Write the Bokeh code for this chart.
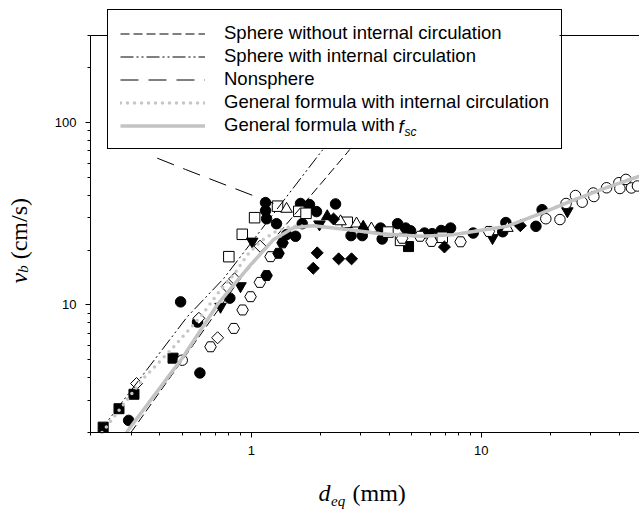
import numpy as np
from bokeh.plotting import figure
from bokeh.models import (Range1d, FixedTicker, PrintfTickFormatter, Legend, LegendItem,
                          Label, LogAxis, BoxAnnotation)
from bokeh.embed import file_html
from bokeh.resources import INLINE

# ---------------- curves (d_eq in mm, v_b in cm/s) ----------------
sphere_wo_x = [0.2995, 0.304, 0.622, 0.898, 2.615, 3.2]
sphere_wo_y = [2.0, 2.05, 7.29, 14.0, 68.4, 95.0]

sphere_with_x = [0.2177, 0.221, 0.527, 0.760, 2.0, 2.45]
sphere_with_y = [2.0, 2.05, 8.62, 14.0, 68.4, 95.0]

nonsphere_x = [0.39, 0.518, 1.131, 1.25]
nonsphere_y = [63.8, 55.3, 37.8, 36.1]

gen_ic_x = [0.2245, 0.270, 0.340, 0.446, 0.602, 0.735, 0.838, 0.961, 1.098, 1.250, 1.482,
            1.866, 2.615, 3.65, 5.45, 7.58, 9.26, 12.97, 18.1, 25.2, 35.3, 48.8]
gen_ic_y = [2.0, 2.71, 3.96, 5.65, 8.62, 12.1, 14.6, 18.8, 22.3, 24.9, 27.0,
            27.2, 25.9, 24.6, 23.8, 24.3, 25.3, 27.0, 31.7, 37.6, 44.1, 50.8]

gen_fsc_x = [0.2866, 0.501, 0.711, 0.993, 1.250, 1.527, 1.866, 2.615, 3.65, 5.45, 7.58,
             9.26, 12.97, 18.1, 25.2, 35.3, 48.8]
gen_fsc_y = [2.0, 5.11, 10.0, 16.6, 22.8, 26.5, 27.2, 25.9, 24.6, 23.8, 24.3,
             25.3, 27.0, 31.7, 37.6, 44.1, 50.8]

# ---------------- measured data ----------------
fc_x = [0.293, 0.493, 0.598, 0.584, 0.807, 1.154, 1.154, 1.166, 1.288, 1.424, 1.558, 1.638, 1.792,
        1.666, 1.922, 2.326, 2.716, 3.04, 3.65, 3.71, 4.33, 4.69, 4.93, 5.67, 6.12, 6.70, 7.36,
        9.23, 12.4, 12.8, 17.3, 18.4]
fc_y = [2.33, 10.4, 4.24, 8.06, 10.9, 36.4, 32.9, 29.7, 27.9, 24.3, 23.8, 36.0, 35.5,
        27.9, 32.5, 35.8, 24.0, 24.0, 26.4, 23.0, 27.9, 26.4, 25.5, 24.8, 24.6, 25.6, 26.4,
        24.8, 25.2, 28.3, 27.0, 33.3]

fs_x = [0.227, 0.266, 0.309, 0.457, 4.83]
fs_y = [2.14, 2.70, 3.24, 5.11, 20.9]

os_x = [0.799, 0.914, 1.034, 1.301, 1.61, 1.731, 2.615, 3.93, 4.46, 6.77]
os_y = [18.4, 24.4, 30.1, 34.8, 32.6, 31.8, 28.4, 25.1, 22.6, 23.5]

ot_x = [1.424, 2.445, 2.87, 3.33, 13.0]
ot_y = [33.6, 28.7, 27.9, 26.2, 26.4]

ft_x = [2.14, 3.07]
ft_y = [30.6, 26.8]

fit_x = [0.735, 0.898, 1.01, 1.98, 11.2, 23.7]
fit_y = [9.79, 12.7, 22.3, 27.7, 23.3, 32.7]

fd_x = [1.936, 1.861, 2.40, 2.73, 2.28, 6.92, 14.8]
fd_y = [19.3, 15.9, 17.9, 17.9, 29.6, 20.8, 27.2]

od_x = [0.317, 0.592, 0.714, 0.786, 0.846, 1.092]
od_y = [3.71, 8.45, 6.61, 12.6, 13.9, 21.0]

oh_x = [0.665, 0.840, 0.917, 0.993, 1.09, 1.213, 4.53, 5.42, 6.08, 8.13, 10.8]
oh_y = [5.90, 7.44, 9.39, 11.1, 13.3, 18.4, 23.2, 23.8, 22.3, 22.2, 25.3]

fh_x = [1.166, 1.314, 1.368]
fh_y = [14.5, 19.2, 21.9]

oc_x = [0.501, 19.1, 22.0, 23.4, 25.7, 27.5, 30.7, 30.9, 35.1, 39.7, 40.1, 42.6, 45.0, 47.8]
oc_y = [4.98, 29.7, 29.4, 36.0, 39.8, 36.6, 41.1, 39.3, 43.9, 46.8, 43.5, 48.8, 43.8, 44.9]

x_major = [1, 10]
x_minor = [0.2, 0.3, 0.4, 0.5, 0.6, 0.7, 0.8, 0.9, 2, 3, 4, 5, 6, 7, 8, 9, 20, 30, 40]
y_major = [10, 100]
y_minor = [2, 3, 4, 5, 6, 7, 8, 9, 20, 30, 40, 50, 60, 70, 80, 90, 200, 300]
x_axis_span = (0.2, 48.8)
y_axis_span = (2, 300)

legend_labels = ["Sphere without internal circulation",
                 "Sphere with internal circulation",
                 "Nonsphere",
                 "General formula with internal circulation",
                 "General formula with"]

SANS = "Liberation Sans"
SERIF = "Liberation Serif"
H = 510  # screen y is measured up from the bottom of the canvas

# frame fills the whole canvas; axes are pinned at the data corner (0.2, 2)
p = figure(width=639, height=H, x_axis_type="log", y_axis_type="log",
           x_range=Range1d(0.0812, 48.8), y_range=Range1d(0.7471, 466.7),
           output_backend="svg", toolbar_location=None, title=None,
           min_border=0, min_border_left=0, min_border_right=0,
           min_border_top=0, min_border_bottom=0)
p.outline_line_color = None
p.grid.visible = False
p.background_fill_color = "white"
p.border_fill_color = "white"

xa, ya = p.xaxis[0], p.yaxis[0]
xa.fixed_location = y_axis_span[0]
xa.bounds = x_axis_span
ya.fixed_location = x_axis_span[0]
ya.bounds = y_axis_span

for ax, maj, mnr in ((xa, x_major, x_minor), (ya, y_major, y_minor)):
    ax.ticker = FixedTicker(ticks=maj, minor_ticks=mnr)
    ax.formatter = PrintfTickFormatter(format="%d")
    ax.major_tick_in = 0
    ax.major_tick_out = 5
    ax.minor_tick_in = 0
    ax.minor_tick_out = 3
    ax.axis_line_color = "black"
    ax.major_tick_line_color = "black"
    ax.minor_tick_line_color = "black"
    ax.major_label_text_font = SANS
    ax.major_label_text_font_size = "13px"
    ax.major_label_text_color = "black"
    ax.major_label_standoff = 9

top = LogAxis(fixed_location=y_axis_span[1], bounds=x_axis_span,
              ticker=FixedTicker(ticks=[], minor_ticks=[]),
              major_tick_line_color=None, minor_tick_line_color=None,
              major_label_text_font_size="0px", axis_line_color="black")
p.add_layout(top, "above")

# markers
mk = dict(line_color="black", line_width=1)
p.scatter(fc_x, fc_y, marker="circle", size=10.5, fill_color="black", **mk)
p.scatter(fs_x, fs_y, marker="square", size=10, fill_color="black", **mk)
p.scatter(os_x, os_y, marker="square", size=10.5, fill_color="white", **mk)
p.scatter(ot_x, ot_y, marker="triangle", size=11.5, fill_color="white", **mk)
p.scatter(ft_x, ft_y, marker="triangle", size=11.5, fill_color="black", **mk)
p.scatter(fit_x, fit_y, marker="inverted_triangle", size=11.5, fill_color="black", **mk)
p.scatter(fd_x, fd_y, marker="square", angle=np.pi / 4, size=8.5, fill_color="black", **mk)
p.scatter(od_x, od_y, marker="square", angle=np.pi / 4, size=8.5, fill_color="white", **mk)
p.scatter(oh_x, oh_y, marker="hex", size=11.5, fill_color="white", **mk)
p.scatter(fh_x, fh_y, marker="hex", size=11.5, fill_color="black", **mk)
p.scatter(oc_x, oc_y, marker="circle", size=10.5, fill_color="white", **mk)

# curves
r1 = p.line(sphere_wo_x, sphere_wo_y, line_color="black", line_width=1, line_dash="9 4")
r2 = p.line(sphere_with_x, sphere_with_y, line_color="black", line_width=1, line_dash="13 3 2 3 2 3")
r3 = p.line(nonsphere_x, nonsphere_y, line_color="black", line_width=1, line_dash="18 10")
r4 = p.line(gen_ic_x, gen_ic_y, line_color="#c6c6c6", line_width=3.5, line_dash="0 7",
            line_cap="round")
r5 = p.line(gen_fsc_x, gen_fsc_y, line_color="#c3c3c3", line_width=3.5)

# white panel behind the (transparent) legend so that extra text can sit on top of it
p.add_layout(BoxAnnotation(left=107, right=559, top=H - 11, bottom=H - 149,
                           left_units="screen", right_units="screen",
                           top_units="screen", bottom_units="screen",
                           fill_color="white", fill_alpha=1.0, line_color=None,
                           level="annotation"))

legend = Legend(items=[LegendItem(label=t, renderers=[r]) for t, r in
                       zip(legend_labels, [r1, r2, r3, r4, r5])],
                location=(107, H - 149), orientation="vertical")
legend.border_line_color = "black"
legend.border_line_width = 1
legend.border_line_alpha = 1
legend.background_fill_alpha = 0.0
legend.label_text_font = SANS
legend.label_text_font_size = "18.5px"
legend.label_text_color = "black"
legend.glyph_width = 85
legend.glyph_height = 21
legend.label_height = 21
legend.label_standoff = 19
legend.padding = 12
legend.spacing = 1
legend.margin = 0
p.add_layout(legend, "center")


def lab(text, x, y, size, style="normal", font=SANS, angle=0.0, baseline="alphabetic"):
    p.add_layout(Label(x=x, y=H - y, x_units="screen", y_units="screen", text=text,
                       text_font=font, text_font_size=size, text_font_style=style,
                       text_color="black", text_align="left", text_baseline=baseline,
                       angle=angle, level="overlay"))


# f_sc in the legend
lab("f", 398, 126, "18.5px", "italic", baseline="middle")
lab("sc", 404, 131, "12px", "italic", baseline="middle")

# axis titles
lab("d", 318, 492, "24px", "italic", SERIF)
lab("eq", 330.5, 500.5, "15px", "italic", SERIF)
lab("(mm)", 352, 492, "24px", "normal", SERIF)

lab("v", 18, 283, "24px", "italic", SERIF, angle=np.pi / 2)
lab("b", 22, 272.3, "15px", "italic", SERIF, angle=np.pi / 2)
lab("(cm/s)", 18, 258.8, "24px", "normal", SERIF, angle=np.pi / 2)

open("out.html", "w").write(file_html(p, INLINE))
